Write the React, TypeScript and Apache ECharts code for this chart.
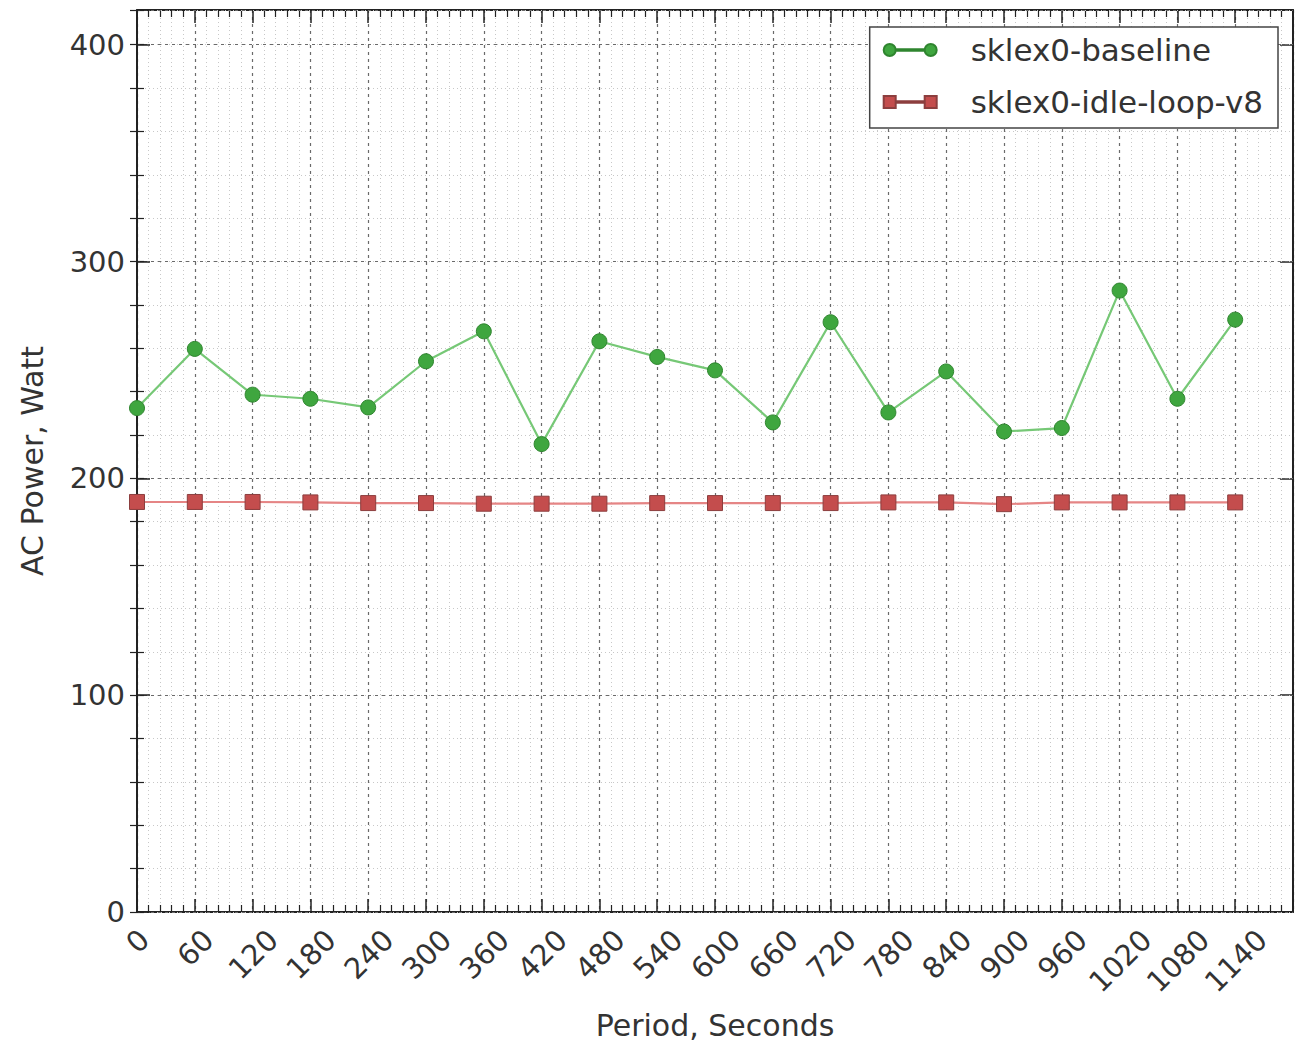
import React, { useEffect, useRef } from "react";
import * as echarts from "echarts";

const periods = [0, 60, 120, 180, 240, 300, 360, 420, 480, 540, 600, 660, 720, 780, 840, 900, 960, 1020, 1080, 1140];
const baseline = [232.4, 259.7, 238.6, 236.7, 232.7, 254.0, 267.8, 215.8, 263.2, 256.0, 249.8, 225.8, 272.0, 230.4, 249.3, 221.6, 223.2, 286.6, 236.7, 273.2];
const idleLoop = [189.1, 189.1, 189.1, 188.9, 188.6, 188.6, 188.3, 188.3, 188.3, 188.6, 188.6, 188.6, 188.6, 188.9, 188.9, 188.1, 188.9, 188.9, 188.9, 188.9];
const seriesNames = ["sklex0-baseline", "sklex0-idle-loop-v8"];
const xMax = 1200;
const yMax = 416;

const FONT = "DejaVu Sans";
const TXT = "#333";
const SPINE = "#222";

const circleIcon =
  "path://M0,6a6,6 0 1,0 12,0a6,6 0 1,0 -12,0Z M12,5.2h29v1.6h-29Z M41,6a6,6 0 1,0 12,0a6,6 0 1,0 -12,0Z";
const squareIcon = "path://M0,0h12v12h-12Z M12,5.2h29v1.6h-29Z M41,0h12v12h-12Z";

function richFor(n: number) {
  const v = 0.25 * ((n === 1 ? 0.5 : n * 0.636 - 0.13) * 29 + 21);
  return { padding: [2 * v + 2, 2 * v, 0, 0], fontSize: 29, fontFamily: FONT, color: TXT };
}

export default function App() {
  const ref = useRef<HTMLDivElement>(null);
  useEffect(() => {
    if (!ref.current) return;
    const chart = echarts.init(ref.current, null, { renderer: "svg" });
    const majorSplit = { show: true, lineStyle: { color: "#6a6a6a", type: [3, 4], width: 1.2 } };
    const minorSplit = { show: true, lineStyle: { color: "#c8c8c8", type: [1, 3], width: 1 } };
    const spine = { show: true, onZero: false, lineStyle: { color: SPINE, width: 2 } };
    const majorTick = { show: true, inside: true, length: 13, lineStyle: { color: SPINE, width: 1.5 } };
    const minorTickY = { show: true, inside: true, length: 7, lineStyle: { color: SPINE, width: 1.2 } };
    const option: any = {
      animation: false,
      backgroundColor: "#fff",
      grid: { left: 137, top: 10, right: 9, bottom: 133, containLabel: false },
      legend: {
        orient: "vertical",
        right: 24,
        top: 27,
        align: "left",
        itemWidth: 53,
        itemHeight: 13,
        itemGap: 16,
        padding: [5, 15, 8, 13],
        borderColor: "#444",
        borderWidth: 1.5,
        borderRadius: 0,
        backgroundColor: "#fff",
        textStyle: { fontSize: 31, color: TXT, fontFamily: FONT, lineHeight: 36, padding: [0, 0, 0, 29] },
        data: [
          { name: seriesNames[0], icon: circleIcon },
          { name: seriesNames[1], icon: squareIcon },
        ],
      },
      xAxis: [
        {
          type: "value",
          position: "bottom",
          min: 0,
          max: xMax,
          interval: 60,
          axisLine: spine,
          axisTick: majorTick,
          minorTick: { show: true, splitNumber: 5, length: 7, lineStyle: { color: SPINE, width: 1.2 } },
          splitLine: majorSplit,
          minorSplitLine: minorSplit,
          axisLabel: {
            rotate: 45,
            align: "center",
            verticalAlign: "middle",
            margin: 16,
            fontSize: 29,
            fontFamily: FONT,
            color: TXT,
            formatter: (v: number) => {
              if (v >= xMax) return "";
              const s = String(v);
              return `{n${s.length}|${s}}`;
            },
            rich: { n1: richFor(1), n2: richFor(2), n3: richFor(3), n4: richFor(4) },
          },
          name: "Period, Seconds",
          nameLocation: "middle",
          nameGap: 98,
          nameTextStyle: { fontSize: 30, color: TXT, fontFamily: FONT },
        },
        {
          type: "value",
          position: "top",
          min: 0,
          max: xMax,
          interval: 60,
          axisLine: spine,
          axisTick: majorTick,
          minorTick: { show: true, splitNumber: 5, length: 7, lineStyle: { color: SPINE, width: 1.2 } },
          splitLine: { show: false },
          axisLabel: { show: false },
        },
      ],
      yAxis: [
        {
          type: "value",
          position: "left",
          min: 0,
          max: yMax,
          interval: 100,
          axisLine: spine,
          axisTick: majorTick,
          splitLine: majorSplit,
          axisLabel: {
            fontSize: 29,
            fontFamily: FONT,
            color: TXT,
            margin: 12,
            formatter: (v: number) => (v % 100 === 0 ? String(v) : ""),
          },
          name: "AC Power, Watt",
          nameLocation: "middle",
          nameGap: 90,
          nameTextStyle: { fontSize: 30, color: TXT, fontFamily: FONT },
          z: 2,
        },
        {
          type: "value",
          position: "left",
          min: 0,
          max: yMax,
          interval: 20,
          axisLine: { show: false },
          axisTick: minorTickY,
          splitLine: minorSplit,
          axisLabel: { show: false },
          z: 1,
        },
        {
          type: "value",
          position: "right",
          min: 0,
          max: yMax,
          interval: 100,
          axisLine: spine,
          axisTick: majorTick,
          splitLine: { show: false },
          axisLabel: { show: false },
        },
        {
          type: "value",
          position: "right",
          min: 0,
          max: yMax,
          interval: 20,
          axisLine: { show: false },
          axisTick: minorTickY,
          splitLine: { show: false },
          axisLabel: { show: false },
        },
      ],
      series: [
        {
          name: seriesNames[0],
          type: "line",
          xAxisIndex: 0,
          yAxisIndex: 0,
          data: periods.map((p, i) => [p, baseline[i]]),
          symbol: "circle",
          symbolSize: 15,
          itemStyle: { color: "#3fa63f", borderColor: "#2f852f", borderWidth: 1 },
          lineStyle: { color: "#76c876", width: 2.2 },
          z: 5,
        },
        {
          name: seriesNames[1],
          type: "line",
          xAxisIndex: 0,
          yAxisIndex: 0,
          data: periods.map((p, i) => [p, idleLoop[i]]),
          symbol: "rect",
          symbolSize: 15,
          itemStyle: { color: "#c44d4d", borderColor: "#8c3e3e", borderWidth: 1 },
          lineStyle: { color: "#e58585", width: 2.2 },
          z: 5,
        },
      ],
    };
    chart.setOption(option);
    return () => chart.dispose();
  }, []);
  return (
    <div
      ref={ref}
      style={{ position: "absolute", left: 0, top: 0, width: 1302, height: 1045 }}
    />
  );
}
